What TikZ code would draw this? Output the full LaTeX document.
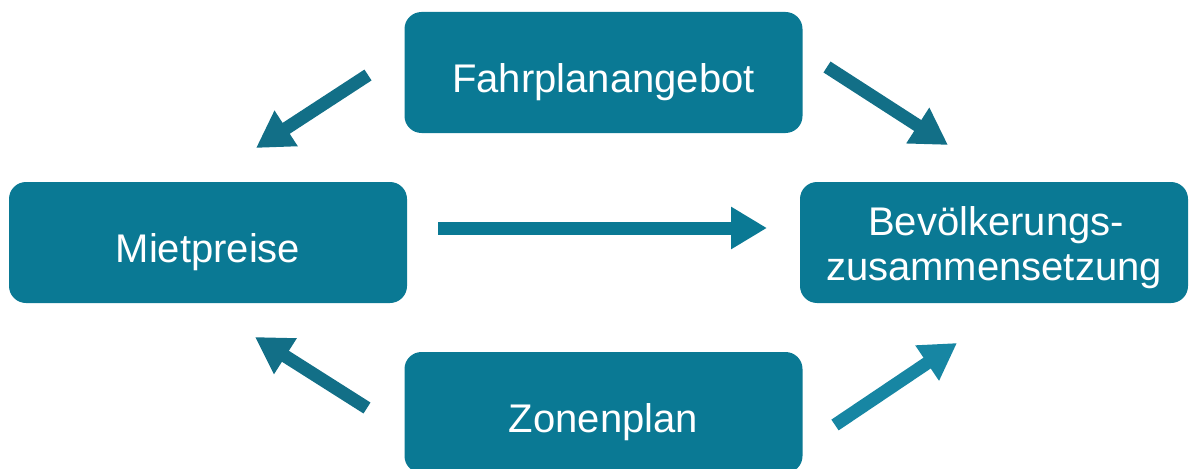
\documentclass[tikz,border=0pt]{standalone}
\usepackage{fontspec}
\setmainfont{Liberation Sans}
\usetikzlibrary{arrows.meta}
\definecolor{boxteal}{HTML}{0A7994}
\definecolor{arrteal}{HTML}{126F87}
\definecolor{arrlight}{HTML}{1786A3}
\begin{document}
\begin{tikzpicture}[x=1pt,y=-1pt,
  box/.style={fill=boxteal, rounded corners=17pt, minimum width=398pt, minimum height=121pt, inner sep=0pt, draw=none},
  lbl/.style={text=white, font=\fontsize{40}{45}\selectfont, inner sep=0pt},
  fat/.style={draw=arrteal, line width=13pt, -{Triangle[width=40pt,length=36pt]}}]
\useasboundingbox (0,0) rectangle (1190,468);
\clip (0,0) rectangle (1190,468);
% boxes
\node[box] (fahr) at (603.5,72.5) {};
\node[lbl, anchor=base] (fahrT) at ([yshift=-20.5pt]fahr.center) {Fahrplanangebot};
\node[box] (miet) at (208,242.5) {};
\node[lbl, anchor=base] (mietT) at ([yshift=-19.5pt]miet.center) {Mietpreise};
\node[box, minimum width=388pt] (bev) at (994,242.5) {};
\node[lbl, anchor=base] (bevT1) at ([xshift=2pt,yshift=7.5pt]bev.center) {Bevölkerungs-};
\node[lbl, anchor=base] (bevT2) at ([yshift=-37.5pt]bev.center) {zusammensetzung};
\node[box] (zone) at (603.5,412.5) {};
\node[lbl, anchor=base] (zoneT) at ([yshift=-19.5pt]zone.center) {Zonenplan};
% arrow end points
\coordinate (tlA) at (368,75);  \coordinate (tlB) at (256,148);
\coordinate (trA) at (827,67);  \coordinate (trB) at (948,145);
\coordinate (mA)  at (438,228); \coordinate (mB)  at (767,228);
\coordinate (blA) at (367,408); \coordinate (blB) at (255,337);
\coordinate (brA) at (835,425); \coordinate (brB) at (957,343);
% arrows
\draw[fat] (tlA) -- (tlB);
\draw[fat] (trA) -- (trB);
\draw[fat, draw=boxteal] (mA) -- (mB);
\draw[fat] (blA) -- (blB);
\draw[fat, draw=arrlight] (brA) -- (brB);
\end{tikzpicture}
\end{document}
